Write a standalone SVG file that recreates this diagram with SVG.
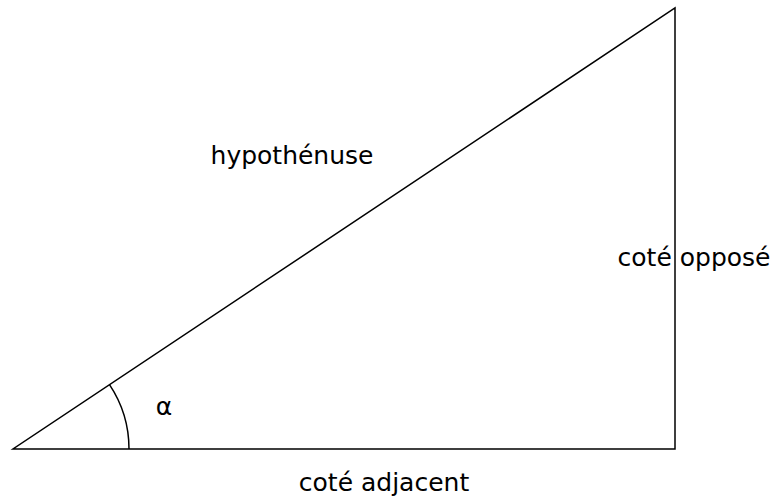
<svg xmlns="http://www.w3.org/2000/svg" width="773" height="497" viewBox="0 0 773 497">
<style>
.l{fill:none;stroke:#000;stroke-width:1.5}
.t{font-family:"DejaVu Sans",sans-serif;font-size:25px;fill:#000;text-anchor:middle}
</style>
<rect width="773" height="497" fill="#fff"/>
<g id="connectors">
<path class="l" d="M13,449 L675,449 L675,8 Z"/>
<path class="l" d="M109.5,384.6 A116,116 0 0 1 129,449"/>
</g>
<g id="labels">
<text class="t" x="292" y="164">hypothénuse</text>
<text class="t" x="694" y="266">coté opposé</text>
<text class="t" x="164" y="415">α</text>
<text class="t" x="384" y="491">coté adjacent</text>
</g>
</svg>
